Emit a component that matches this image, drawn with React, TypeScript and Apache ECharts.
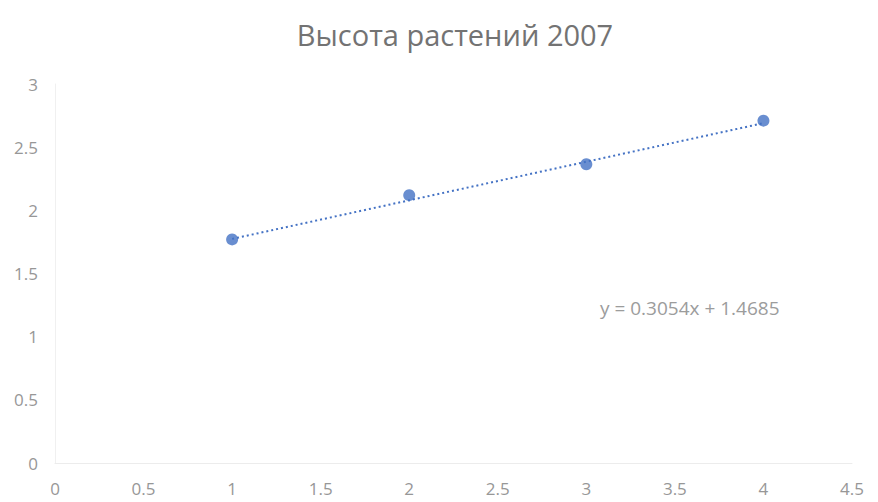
import React, { useEffect, useRef } from "react";
import * as echarts from "echarts";

const titleText = "Высота растений 2007";
const xValues = [1, 2, 3, 4];
const yValues = [1.77, 2.12, 2.365, 2.71];
const trendSlope = 0.3054;
const trendIntercept = 1.4685;
const equationText = "y = 0.3054x + 1.4685";
const xTicks = [0, 0.5, 1, 1.5, 2, 2.5, 3, 3.5, 4, 4.5];
const yTicks = [0, 0.5, 1, 1.5, 2, 2.5, 3];

export default function App() {
  const ref = useRef<HTMLDivElement>(null);
  useEffect(() => {
    if (!ref.current) return;
    const chart = echarts.init(ref.current, null, { renderer: "svg" });
    const font = "'Open Sans', 'Noto Sans', sans-serif";
    const xMin = xValues[0];
    const xMax = xValues[xValues.length - 1];
    chart.setOption({
      animation: false,
      backgroundColor: "#ffffff",
      title: {
        text: titleText,
        left: 450,
        top: 15,
        textAlign: "center",
        textStyle: { color: "#737373", fontSize: 29, fontWeight: "normal", fontFamily: font },
      },
      grid: { left: 55, right: 26, top: 84, bottom: 39, containLabel: false },
      xAxis: {
        type: "value",
        min: xTicks[0],
        max: xTicks[xTicks.length - 1],
        interval: 0.5,
        axisLine: { show: true, lineStyle: { color: "#ececec" } },
        axisTick: { show: false },
        splitLine: { show: false },
        axisLabel: { color: "#979797", fontSize: 17, fontFamily: font, margin: 17 },
      },
      yAxis: {
        type: "value",
        min: yTicks[0],
        max: yTicks[yTicks.length - 1],
        interval: 0.5,
        axisLine: { show: true, lineStyle: { color: "#f0f0f0" } },
        axisTick: { show: false },
        splitLine: { show: false },
        axisLabel: { color: "#979797", fontSize: 17, fontFamily: font, margin: 17 },
      },
      series: [
        {
          type: "line",
          data: [
            [xMin, trendSlope * xMin + trendIntercept],
            [xMax, trendSlope * xMax + trendIntercept],
          ],
          showSymbol: false,
          symbol: "none",
          lineStyle: { color: "#4472C4", width: 2, type: [2, 3] },
          z: 1,
        },
        {
          type: "scatter",
          data: xValues.map((x, i) => [x, yValues[i]]),
          symbolSize: 12,
          itemStyle: { color: "#4472C4" },
          z: 2,
        },
      ],
      graphic: [
        {
          type: "text",
          left: 600,
          top: 298,
          style: {
            text: equationText,
            fill: "#9c9c9c",
            fontSize: 19,
            fontFamily: font,
          },
        },
      ],
    });
    return () => chart.dispose();
  }, []);
  return (
    <div
      ref={ref}
      style={{ position: "fixed", left: 0, top: 0, width: 878, height: 502 }}
    />
  );
}
